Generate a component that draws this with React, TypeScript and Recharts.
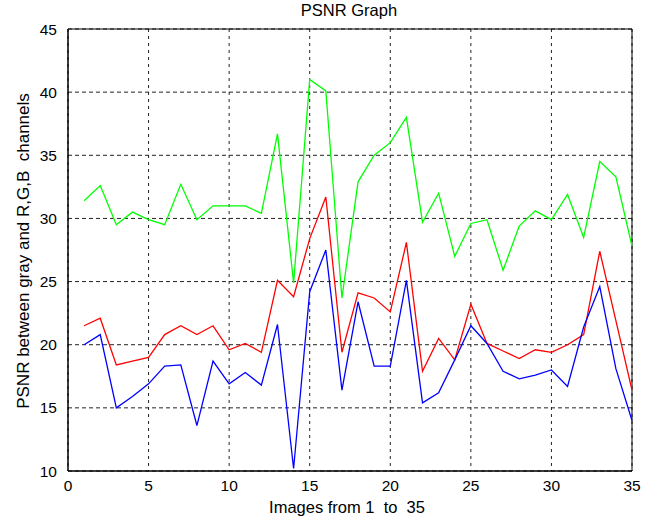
import { CartesianGrid, Customized, Line, LineChart, ReferenceArea, XAxis, YAxis } from "recharts"

const images = Array.from({ length: 35 }, (_, i) => i + 1)

const green = [
  31.4, 32.6, 29.5, 30.5, 29.9, 29.5, 32.7, 29.9, 31.0, 31.0, 31.0, 30.4, 36.7, 24.9, 41.0, 40.1, 23.7, 32.9,
  35.0, 36.0, 38.0, 29.7, 32.0, 27.0, 29.6, 29.9, 25.9, 29.4, 30.6, 29.9, 31.9, 28.5, 34.5, 33.3, 27.8,
]
const red = [
  21.5, 22.1, 18.4, 18.7, 19.0, 20.8, 21.5, 20.8, 21.5, 19.6, 20.1, 19.4, 25.1, 23.8, 28.4, 31.7, 19.4, 24.1,
  23.7, 22.6, 28.1, 17.9, 20.5, 18.8, 23.2, 20.1, 19.5, 18.9, 19.6, 19.4, 20.0, 20.8, 27.4, 21.9, 16.4,
]
const blue = [
  20.0, 20.8, 15.0, 15.9, 16.9, 18.3, 18.4, 13.6, 18.7, 16.9, 17.8, 16.8, 21.6, 10.2, 24.2, 27.5, 16.4, 23.4,
  18.3, 18.3, 25.1, 15.4, 16.2, 18.8, 21.5, 20.1, 17.9, 17.3, 17.6, 18.0, 16.7, 21.4, 24.6, 18.1, 14.0,
]

const xTicks = [0, 5, 10, 15, 20, 25, 30, 35]
const yTicks = [10, 15, 20, 25, 30, 35, 40, 45]

const data = images.map((img, i) => ({ img, g: green[i], r: red[i], b: blue[i] }))

const font = "'Liberation Sans', Arial, sans-serif"

function Title() {
  return (
    <text x={349} y={16} textAnchor="middle" fontFamily={font} fontSize={16.5} fill="#000">
      PSNR Graph
    </text>
  )
}

function YLabel() {
  return (
    <text
      x={25}
      y={251}
      transform="rotate(-90 25 251)"
      textAnchor="middle"
      dominantBaseline="middle"
      fontFamily={font}
      fontSize={17}
      fill="#000"
    >
      {"PSNR between gray and R,G,B\u00a0 channels"}
    </text>
  )
}

function XLabel() {
  return (
    <text x={347} y={513} textAnchor="middle" fontFamily={font} fontSize={16.5} fill="#000">
      {"Images from 1\u00a0 to\u00a0 35"}
    </text>
  )
}

export default function App() {
  return (
    <div style={{ position: "absolute", left: 0, top: 0, width: 660, height: 521, background: "#fff" }}>
      <LineChart width={660} height={521} data={data} margin={{ top: 29, right: 28, left: 0, bottom: 0 }}>
        <CartesianGrid horizontal={false} stroke="#222" strokeDasharray="3 4" />
        <CartesianGrid vertical={false} stroke="#222" strokeDasharray="4 3" />
        <XAxis
          dataKey="img"
          type="number"
          domain={[0, 35]}
          ticks={xTicks}
          height={50}
          tickLine={false}
          axisLine={{ stroke: "#000" }}
          tick={{ fill: "#000", fontSize: 15.5, fontFamily: font }}
          tickMargin={3}
        />
        <YAxis
          type="number"
          domain={[10, 45]}
          ticks={yTicks}
          width={68}
          tickLine={false}
          axisLine={{ stroke: "#000" }}
          tick={{ fill: "#000", fontSize: 15.5, fontFamily: font }}
          tickMargin={5}
        />
        <ReferenceArea x1={0} x2={35} y1={10} y2={45} fill="none" stroke="#000" strokeWidth={1} />
        <Line dataKey="g" stroke="#00ff00" strokeWidth={1.3} dot={false} isAnimationActive={false} />
        <Line dataKey="r" stroke="#ff0000" strokeWidth={1.3} dot={false} isAnimationActive={false} />
        <Line dataKey="b" stroke="#0000ff" strokeWidth={1.3} dot={false} isAnimationActive={false} />
        <Customized component={Title} />
        <Customized component={YLabel} />
        <Customized component={XLabel} />
      </LineChart>
    </div>
  )
}
